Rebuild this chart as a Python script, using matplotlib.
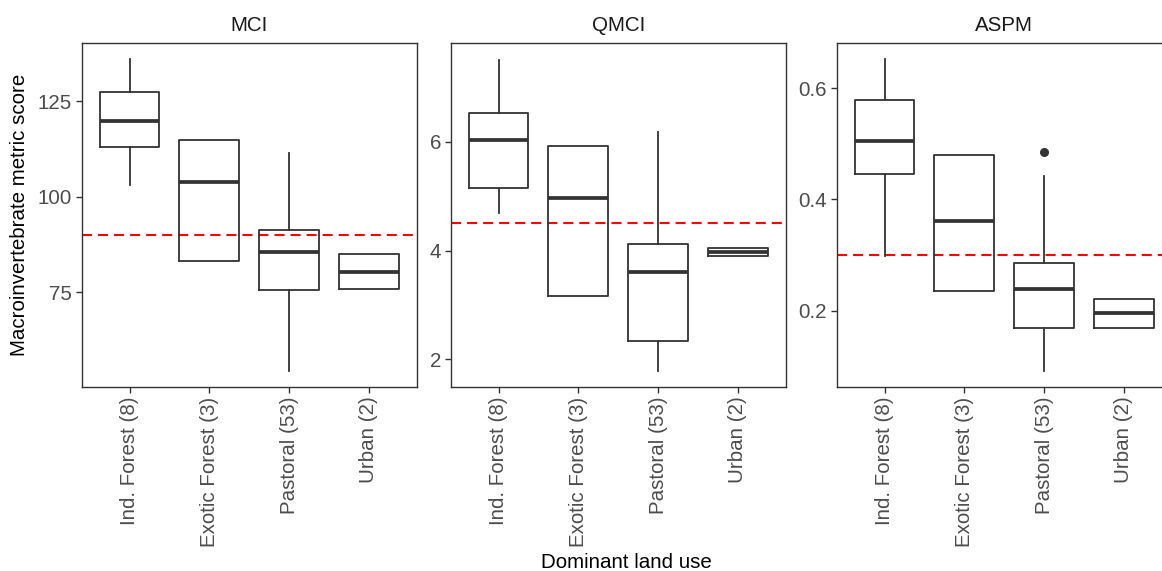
import matplotlib
matplotlib.use("Agg")
import matplotlib.pyplot as plt

plt.rcParams['font.family'] = ['Liberation Sans', 'DejaVu Sans']

categories = ["Ind. Forest (8)", "Exotic Forest (3)", "Pastoral (53)", "Urban (2)"]
panels = ["MCI", "QMCI", "ASPM"]

# box statistics per panel: whisker low, Q1, median, Q3, whisker high
mci_whislo = [103.0, 83.3, 54.5, 75.8]
mci_q1 = [113.1, 83.3, 75.6, 75.8]
mci_med = [119.9, 103.7, 85.4, 80.4]
mci_q3 = [127.4, 114.8, 91.2, 84.9]
mci_whishi = [135.9, 114.8, 111.3, 84.9]
mci_fliers = [[], [], [], []]

qmci_whislo = [4.69, 3.16, 1.78, 3.91]
qmci_q1 = [5.16, 3.16, 2.34, 3.91]
qmci_med = [6.03, 4.97, 3.60, 3.98]
qmci_q3 = [6.53, 5.93, 4.13, 4.05]
qmci_whishi = [7.51, 5.93, 6.18, 4.05]
qmci_fliers = [[], [], [], []]

aspm_whislo = [0.299, 0.235, 0.092, 0.168]
aspm_q1 = [0.446, 0.235, 0.168, 0.168]
aspm_med = [0.506, 0.362, 0.239, 0.195]
aspm_q3 = [0.579, 0.480, 0.285, 0.221]
aspm_whishi = [0.652, 0.480, 0.443, 0.221]
aspm_fliers = [[], [], [0.486], []]

thresholds = [90, 4.5, 0.30]
ylims = [(50.3, 140.1), (1.50, 7.81), (0.063, 0.681)]
yticks = [[75, 100, 125], [2, 4, 6], [0.2, 0.4, 0.6]]
ytick_labels = [["75", "100", "125"], ["2", "4", "6"], ["0.2", "0.4", "0.6"]]

stats_sets = [
    (mci_whislo, mci_q1, mci_med, mci_q3, mci_whishi, mci_fliers),
    (qmci_whislo, qmci_q1, qmci_med, qmci_q3, qmci_whishi, qmci_fliers),
    (aspm_whislo, aspm_q1, aspm_med, aspm_q3, aspm_whishi, aspm_fliers),
]

W, H = 1162, 571
fig = plt.figure(figsize=(W / 100, H / 100), dpi=100)

lefts_px = [81.7, 450.7, 836.7]
width_px = 335.0
top_px, bottom_px = 43.3, 386.7

dark = "#333333"
fs = 14.8

for i, name in enumerate(panels):
    ax = fig.add_axes([lefts_px[i] / W, 1 - bottom_px / H, width_px / W, (bottom_px - top_px) / H])
    wl, q1, med, q3, wh, fl = stats_sets[i]
    stats = []
    for j in range(len(categories)):
        stats.append(dict(whislo=wl[j], q1=q1[j], med=med[j], q3=q3[j], whishi=wh[j], fliers=fl[j]))
    ax.bxp(stats, positions=list(range(1, len(categories) + 1)), widths=0.75,
           showcaps=False, patch_artist=False,
           boxprops=dict(color=dark, linewidth=1.3),
           whiskerprops=dict(color=dark, linewidth=1.3),
           medianprops=dict(color=dark, linewidth=2.7, solid_capstyle='butt'),
           flierprops=dict(marker='o', markerfacecolor=dark, markeredgecolor=dark, markersize=5.5))
    ax.axhline(thresholds[i], color='#FF0000', linewidth=1.5, linestyle=(0, (4.8, 2.9)), zorder=0.5)
    ax.set_xlim(0.4, 4.6)
    ax.set_ylim(*ylims[i])
    ax.set_yticks(yticks[i])
    ax.set_yticklabels(ytick_labels[i])
    ax.set_xticks(list(range(1, len(categories) + 1)))
    ax.set_xticklabels(categories, rotation=90, ha='center', va='top')
    ax.tick_params(axis='both', colors=dark, labelcolor='#4D4D4D', labelsize=fs,
                   length=4, width=1.0, pad=3)
    for sp in ax.spines.values():
        sp.set_color(dark)
        sp.set_linewidth(1.0)
    ax.set_title(name, fontsize=fs, color='#1A1A1A', pad=9)

fig.text(20 / W, 1 - 215 / H, "Macroinvertebrate metric score", rotation=90,
         ha='center', va='center', fontsize=fs, color='black')
fig.text(626.7 / W, 1 - 563 / H, "Dominant land use", ha='center', va='center',
         fontsize=fs, color='black')

fig.savefig("out.png", dpi=100, facecolor='white')
